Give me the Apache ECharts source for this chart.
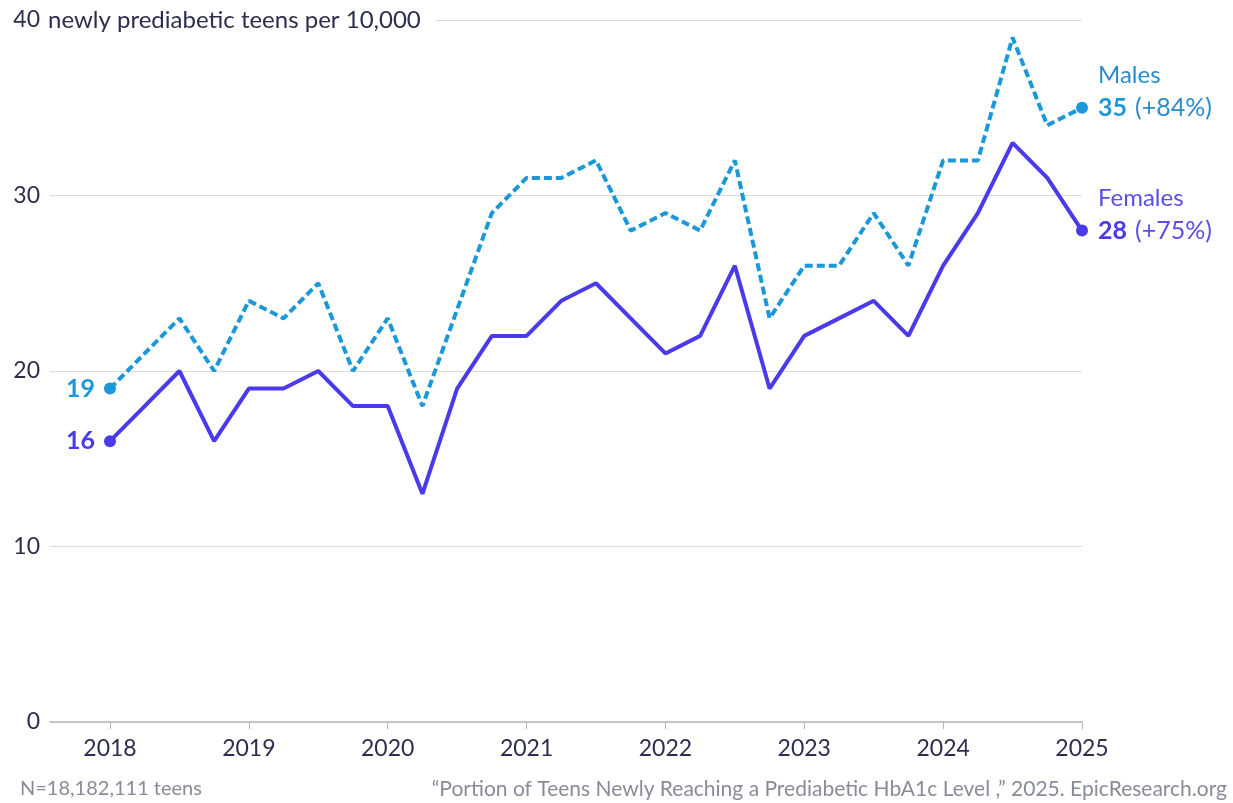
<!DOCTYPE html>
<html>
<head>
<meta charset="utf-8">
<script src="https://cdn.jsdelivr.net/npm/echarts@6/dist/echarts.min.js"></script>
<style>
  html, body { margin: 0; padding: 0; background: #fff; }
  #chart { width: 1233px; height: 803px; }
</style>
</head>
<body>
<div id="chart"></div>
<script>
// quarterly points, 2018 Q1 .. 2025 Q1
const startYear = 2018;
const yearTicks = [2018, 2019, 2020, 2021, 2022, 2023, 2024, 2025];
const males = [19, 21, 23, 20, 24, 23, 25, 20, 23, 18, 23.5, 29, 31, 31, 32, 28, 29, 28, 32, 23, 26, 26, 29, 26, 32, 32, 39, 34, 35];
const females = [16, 18, 20, 16, 19, 19, 20, 18, 18, 13, 19, 22, 22, 24, 25, 23, 21, 22, 26, 19, 22, 23, 24, 22, 26, 29, 33, 31, 28];

const maleColor = '#1a98da';
const femaleColor = '#4a3aea';
const inkColor = '#2d2d4d';
const noteColor = '#8a8b99';
const font = 'Lato, "Noto Sans", sans-serif';

const toPoints = (vals) => vals.map((v, i) => [startYear + i / 4, v]);

// first and last points get a dot + label
const decorate = (vals, name, color, nameColor) => {
  const pts = toPoints(vals);
  const first = vals[0];
  const last = vals[vals.length - 1];
  const pct = Math.round(((last - first) / first) * 100);
  return pts.map((p, i) => {
    if (i === 0) {
      return {
        value: p,
        symbol: 'circle',
        symbolSize: 12,
        label: {
          show: true,
          position: 'left',
          distance: 9,
          formatter: String(first),
          color: color,
          fontFamily: font,
          fontWeight: 'bold',
          fontSize: 25,
        },
      };
    }
    if (i === pts.length - 1) {
      return {
        value: p,
        symbol: 'circle',
        symbolSize: 12,
        label: {
          show: true,
          position: 'right',
          distance: 10,
          offset: [0, -16],
          formatter: `{n|${name}}\n{b|${last}}{p|(+${pct}%)}`,
          rich: {
            n: { color: nameColor, fontFamily: font, fontSize: 24, lineHeight: 32 },
            b: { color: color, fontFamily: font, fontSize: 25, fontWeight: 'bold', lineHeight: 32 },
            p: { color: nameColor, fontFamily: font, fontSize: 25, lineHeight: 32, padding: [0, 0, 0, 8] },
          },
        },
      };
    }
    return { value: p, symbol: 'none' };
  });
};

const chart = echarts.init(document.getElementById('chart'), null, { renderer: 'canvas' });

const option = {
  animation: false,
  backgroundColor: '#fff',
  grid: { left: 50, right: 151, top: 20, bottom: 81, containLabel: false },
  xAxis: {
    type: 'value',
    min: 2017.568,
    max: 2025,
    axisLine: { show: true, lineStyle: { color: '#b5b5bd', width: 1.5 } },
    axisTick: { show: true, customValues: yearTicks, length: 7, lineStyle: { color: '#b5b5bd' } },
    axisLabel: {
      customValues: yearTicks,
      formatter: (v) => String(v),
      color: inkColor,
      fontFamily: font,
      fontSize: 23,
      margin: 15,
    },
    splitLine: { show: false },
  },
  yAxis: {
    type: 'value',
    min: 0,
    max: 40,
    interval: 10,
    axisLine: { show: false },
    axisTick: { show: false },
    axisLabel: { color: inkColor, fontFamily: font, fontSize: 23, margin: 10 },
    splitLine: { lineStyle: { color: '#dcdce0', width: 1.2 } },
  },
  series: [
    {
      name: 'Males',
      type: 'line',
      data: decorate(males, 'Males', maleColor, '#2a8ccc'),
      showSymbol: true,
      itemStyle: { color: maleColor },
      lineStyle: { color: maleColor, width: 4, type: [8, 4] },
      z: 3,
    },
    {
      name: 'Females',
      type: 'line',
      data: decorate(females, 'Females', femaleColor, '#5a4ee6'),
      showSymbol: true,
      itemStyle: { color: femaleColor },
      lineStyle: { color: femaleColor, width: 4 },
      z: 4,
    },
  ],
  graphic: [
    {
      type: 'rect',
      shape: { x: 44, y: 6, width: 392, height: 28 },
      style: { fill: '#fff' },
      z: 50,
    },
    {
      type: 'text',
      x: 48,
      y: 20,
      z: 51,
      style: {
        text: 'newly prediabetic teens per 10,000',
        fill: inkColor,
        font: '24px Lato, "Noto Sans", sans-serif',
        verticalAlign: 'middle',
      },
    },
    {
      type: 'text',
      x: 20,
      y: 789,
      style: {
        text: 'N=18,182,111 teens',
        fill: noteColor,
        font: '20px Lato, "Noto Sans", sans-serif',
        verticalAlign: 'middle',
      },
    },
    {
      type: 'text',
      x: 1227,
      y: 789,
      style: {
        text: '\u201CPortion of Teens Newly Reaching a Prediabetic HbA1c Level ,\u201D 2025. EpicResearch.org',
        fill: noteColor,
        font: '21px Lato, "Noto Sans", sans-serif',
        align: 'right',
        verticalAlign: 'middle',
      },
    },
  ],
};

chart.setOption(option);
</script>
</body>
</html>
